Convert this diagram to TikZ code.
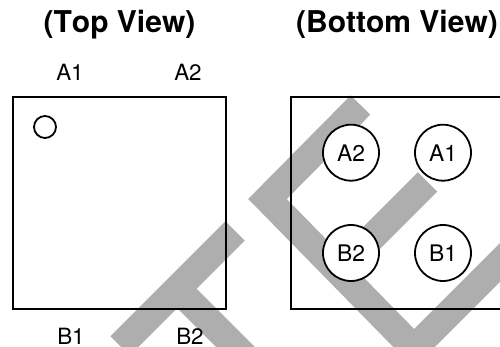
\documentclass[tikz,border=0pt]{standalone}
\usepackage{fontspec}
\setmainfont[Kerning=Off]{TeX Gyre Heros}
\tikzset{
  band/.style={draw=wm,line width=27.5pt,miter limit=10,line cap=butt,line join=miter},
  outline/.style={draw=black,line width=2pt},
  pad/.style={circle,draw=black,line width=1.8pt,fill=white,minimum size=56pt,inner sep=0pt,font=\fontsize{22.8}{23}\selectfont},
  pinlabel/.style={anchor=base,inner sep=0pt,font=\fontsize{22.4}{23}\selectfont},
  viewtitle/.style={anchor=base,inner sep=0pt,font=\fontsize{30}{30}\selectfont\bfseries}
}
\definecolor{wm}{HTML}{AEAEAE}
\begin{document}
\begin{tikzpicture}[x=1pt,y=-1pt]
\useasboundingbox (0,0) rectangle (500,347);
\clip (0,0) rectangle (500,347);
% watermark
\draw[band] (360.5,105) -- (267.5,199) -- (414,348.5) -- (510,252.5);
\draw[band] (427.5,182) -- (339,270.5);
\draw[band] (235,231) -- (120,346);
\draw[band] (177,288.5) -- (247,358.5);
% packages
\draw[outline] (13,97) rectangle (226,308.5);
\draw[outline] (291,97) rectangle (520,308.5);
\node[circle,draw=black,line width=1.8pt,minimum size=22pt,inner sep=0pt] (dot) at (45,127) {};
\node[pad] (padA2) at (351,152.7) {A2};
\node[pad] (padA1) at (443,152.7) {A1};
\node[pad] (padB2) at (351,253) {B2};
\node[pad] (padB1) at (443,253) {B1};
% labels
\node[viewtitle] (top) at (119.5,32.3) {(Top View)};
\node[viewtitle] (bottom) at (397,32.3) {(Bottom View)};
\node[pinlabel] (lA1) at (70,81) {A1};
\node[pinlabel] (lA2) at (188,81) {A2};
\node[pinlabel] (lB1) at (71,344) {B1};
\node[pinlabel] (lB2) at (190,344) {B2};
\end{tikzpicture}
\end{document}
